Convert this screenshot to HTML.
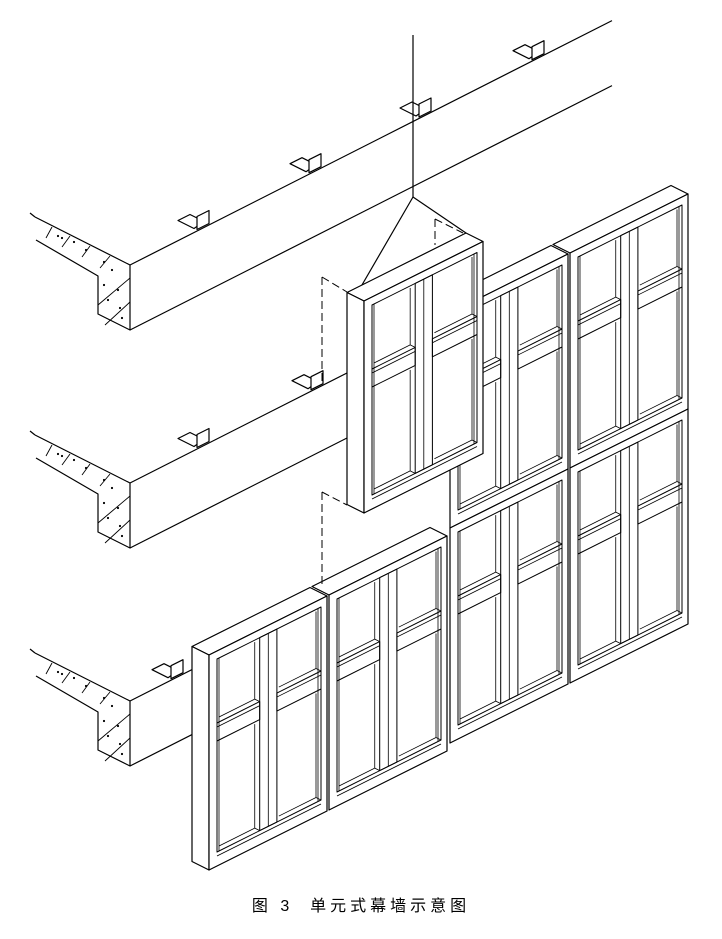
<!DOCTYPE html>
<html><head><meta charset="utf-8"><style>
html,body{margin:0;padding:0;background:#fff;width:722px;height:939px;overflow:hidden}
svg{position:absolute;left:0;top:0}
.cap{position:absolute;top:892px;left:0;width:722px;text-align:center;font:16px "Liberation Sans","Noto Sans CJK SC",sans-serif;color:#000;letter-spacing:4px}
</style></head><body>
<svg id="s" width="722" height="939" viewBox="0 0 722 939" fill="none" stroke="#000" stroke-width="1.2" stroke-linejoin="round"></svg>
<div class="cap">图 3&nbsp;&nbsp;单元式幕墙示意图</div>
<script>
var S=document.getElementById('s'),NS='http://www.w3.org/2000/svg';
function el(t,a){var e=document.createElementNS(NS,t);for(var k in a)e.setAttribute(k,a[k]);S.appendChild(e);return e;}
function poly(pts,fill,extra){var a={points:pts.map(function(p){return p[0].toFixed(1)+','+p[1].toFixed(1)}).join(' ')};if(fill)a.fill=fill;for(var k in extra)a[k]=extra[k];return el('polygon',a);}
function line(a,b,extra){var o={x1:a[0],y1:a[1],x2:b[0],y2:b[1]};for(var k in extra)o[k]=extra[k];return el('line',o);}
function pl(pts,extra){var a={points:pts.map(function(p){return p[0]+','+p[1]}).join(' ')};for(var k in extra)a[k]=extra[k];return el('polyline',a);}

function slab(dy,xEnd){
  var t=265+dy,b=330+dy;
  pl([[35,217+dy],[130,t],[130,b],[98,b-16],[98,t+11],[36,240+dy]]);
  line([35,217+dy],[30,213+dy]);
  [[52,227,46,238],[70,236,62,247],[90,246,82,257],[110,256,100,268],[130,278,98,305],[130,302,105,325]].forEach(function(h){line([h[0],h[1]+dy],[h[2],h[3]+dy],{'stroke-width':0.9});});
  [[58,236],[62,238],[74,242],[86,250],[104,262],[104,285],[118,290],[108,300],[120,308],[112,270],[122,318]].forEach(function(d){el('circle',{cx:d[0],cy:d[1]+dy,r:1.1,fill:'#000',stroke:'none'});});
  line([130,t],[xEnd,t-0.507*(xEnd-130)]);
  line([130,b],[xEnd,b-0.507*(xEnd-130)]);
}
function bracket(x,y){
  poly([[x-4,y-2],[x-20,y-10],[x-8,y-16],[x+6,y-9]],'#fff');
  poly([[x-1,y-1],[x-1,y-14],[x+11,y-20],[x+11,y-7]],'#fff');
}
slab(0,612);slab(218,470);slab(436,250);
function yT(x,dy){return 265+dy-0.507*(x-130);}
[198,310,420,533].forEach(function(x){bracket(x,yT(x,0));});
[198,312].forEach(function(x){bracket(x,yT(x,218));});
bracket(172,yT(172,436));

line([413,35],[413,197]);

function panel(x0,y0,w,h,opt){
  opt=opt||{};
  function P(u,v){return [x0+u,y0-u*0.5+v];}
  var d=17;
  if(opt.top) poly([P(0,0),P(w,0),[x0+w-d,y0-w*0.5-d/2],[x0-d,y0-d/2]],'#fff');
  if(opt.side) poly([P(0,0),[x0-d,y0-d/2],[x0-d,y0-d/2+h],P(0,h)],'#fff');
  poly([P(0,0),P(w,0),P(w,h),P(0,h)],'#fff');
  function rect(u1,v1,u2,v2,sw){poly([P(u1,v1),P(u2,v1),P(u2,v2),P(u1,v2)],null,{'stroke-width':sw||1});}
  var L=8,R=w-6,T=8,B=h-14;
  rect(L,T,R,B);
  line(P(L,B+4),P(R,B+4),{'stroke-width':0.9});
  line(P(R-3,T),P(R-3,B),{'stroke-width':0.8});
  line(P(L+2,T),P(L+2,B),{'stroke-width':0.8});
  var m1=w*0.43,m2=w*0.575,mm=(m1+m2)/2;
  rect(m1,T,m2,B);
  line(P(mm,T),P(mm,B),{'stroke-width':0.8});
  [[L,m1],[m2,R]].forEach(function(c){
    rect(c[0],72,c[1],90);
    line(P(c[0],76),P(c[1],76),{'stroke-width':0.8});
    [[T,72],[90,B]].forEach(function(r){
      // reveal: right side and bottom only
      line(P(c[1]-5,r[0]+2),P(c[1]-5,r[1]-5),{'stroke-width':0.8});
      line(P(c[0]+2,r[1]-5),P(c[1]-5,r[1]-5),{'stroke-width':0.8});
      line(P(c[1]-5,r[1]-5),P(c[1],r[1]),{'stroke-width':0.8});
    });
  });
}
panel(450,313,118,215,{top:true});
panel(570,253,118,215,{top:true});
panel(450,528,118,215);
panel(570,468,118,215);
panel(329,595,118,215,{top:true});
panel(209,655,118,215,{top:true,side:true});

var dash={'stroke-dasharray':'8,4','stroke-width':1};
line([322,277],[322,385],dash);line([322,277],[347,292],dash);
line([435,219],[435,245],dash);line([435,219],[463,233],dash);
line([322,492],[322,586],dash);line([322,492],[347,505],dash);

line([413,197],[355,297]);line([413,197],[466,233]);

panel(364,301,119,212,{top:true,side:true});
</script>
</body></html>
